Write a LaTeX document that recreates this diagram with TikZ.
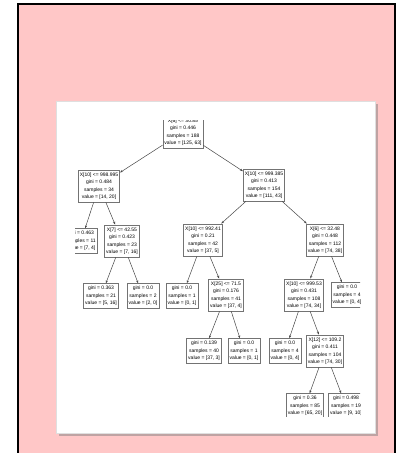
\documentclass[tikz,border=0pt]{standalone}
\usepackage{fontspec}
\setsansfont{Liberation Sans}
\usepackage{xcolor}
\usetikzlibrary{arrows.meta}
\usetikzlibrary{shadows}
\usetikzlibrary{graphs}
\definecolor{pinkbg}{RGB}{255,199,199}
\definecolor{boxgray}{RGB}{115,115,115}
\definecolor{edgegray}{RGB}{70,70,70}

\begin{document}
\begin{tikzpicture}[x=1pt, y=-1pt,
  split/.style={draw=boxgray, line width=0.7pt, fill=white, align=center,
    font=\sffamily\fontsize{5}{7.5}\selectfont, inner xsep=1.5pt, inner ysep=2.5pt},
  leaf/.style={split},
  >={Stealth[length=3pt,width=2.2pt]}]
	%Bakgrunn og ramme
	\useasboundingbox (0,0) rectangle (397,453);
	\fill[pinkbg] (18,4) rectangle (395,453);
	\draw[line width=2pt] (18,460) |- (395,4) -- (395,460);
	\path[fill=white, draw=gray!25, drop shadow={shadow xshift=2.5pt, shadow yshift=-2.5pt, opacity=0.5}] (56,101) rectangle (375,433);

	\begin{scope}
	\clip (75,120.5) rectangle (360,416);
	%Nodene går her
	\node[split] (0) at (183,132) {X[6] <= 30.85\\gini = 0.446\\samples = 188\\value = [125, 63]};
	\node[split] (1) at (99,186) {X[10] <= 998.995\\gini = 0.484\\samples = 34\\value = [14, 20]};
	\node[split] (2) at (264,185) {X[10] <= 999.385\\gini = 0.413\\samples = 154\\value = [111, 43]};
	\node[leaf] (3) at (81,241) {gini = 0.463\\samples = 11\\value = [7, 4]};
	\node[split] (4) at (122,241) {X[7] <= 42.55\\gini = 0.423\\samples = 23\\value = [7, 16]};
	\node[leaf] (5) at (101,296) {gini = 0.363\\samples = 21\\value = [5, 16]};
	\node[leaf] (6) at (143,296) {gini = 0.0\\samples = 2\\value = [2, 0]};
	\node[split] (7) at (203,240) {X[10] <= 992.41\\gini = 0.21\\samples = 42\\value = [37, 5]};
	\node[leaf] (8) at (182,296) {gini = 0.0\\samples = 1\\value = [0, 1]};
	\node[split] (9) at (226,295) {X[25] <= 71.5\\gini = 0.176\\samples = 41\\value = [37, 4]};
	\node[leaf] (10) at (204,351) {gini = 0.139\\samples = 40\\value = [37, 3]};
	\node[leaf] (11) at (244,351) {gini = 0.0\\samples = 1\\value = [0, 1]};
	\node[split] (12) at (325,240) {X[6] <= 32.48\\gini = 0.448\\samples = 112\\value = [74, 38]};
	\node[split] (13) at (304,295) {X[10] <= 999.53\\gini = 0.431\\samples = 108\\value = [74, 34]};
	\node[leaf] (14) at (347,295) {gini = 0.0\\samples = 4\\value = [0, 4]};
	\node[leaf] (15) at (285,351) {gini = 0.0\\samples = 4\\value = [0, 4]};
	\node[split] (16) at (325,351) {X[12] <= 109.2\\gini = 0.411\\samples = 104\\value = [74, 30]};
	\node[leaf] (17) at (305,406) {gini = 0.36\\samples = 85\\value = [65, 20]};
	\node[leaf] (18) at (346,406) {gini = 0.498\\samples = 19\\value = [9, 10]};

	%Kantene defineres her
	\graph[edges={draw=edgegray, line width=0.5pt}] {
		(0) -> (1); (0) -> (2);
		(1) -> (3); (1) -> (4);
		(4) -> (5); (4) -> (6);
		(2) -> (7); (2) -> (12);
		(7) -> (8); (7) -> (9);
		(9) -> (10); (9) -> (11);
		(12) -> (13); (12) -> (14);
		(13) -> (15); (13) -> (16);
		(16) -> (17); (16) -> (18);
	};
	\end{scope}
\end{tikzpicture}
\end{document}
